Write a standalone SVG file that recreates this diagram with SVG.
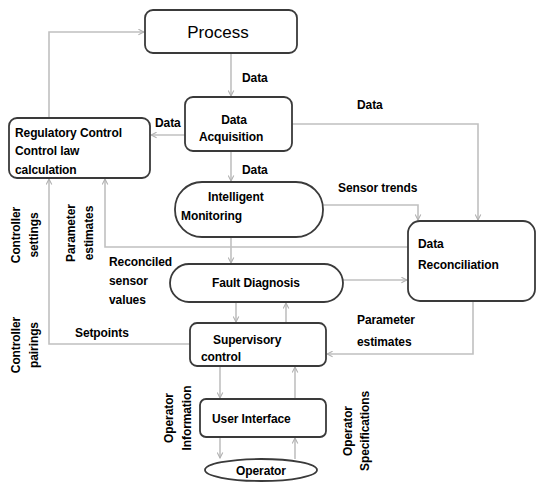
<svg xmlns="http://www.w3.org/2000/svg" width="536" height="483" viewBox="0 0 536 483">
<style>
.box{fill:#fff;stroke:#3a3a3a;stroke-width:1.8}
.ln{fill:none;stroke:#c0c0c0;stroke-width:1.6}
.t{font-family:"Liberation Sans",Arial,sans-serif;font-size:12px;font-weight:bold;fill:#000;letter-spacing:-0.1px}
.big{font-family:"Liberation Sans",Arial,sans-serif;font-size:17px;fill:#000}
</style>
<defs>
<marker id="ah" viewBox="0 0 10 10" refX="9" refY="5" markerWidth="7" markerHeight="7" orient="auto" markerUnits="userSpaceOnUse">
<path d="M1,1 L9,5 L1,9" fill="none" stroke="#b0b0b0" stroke-width="1.5"/>
</marker>
</defs>
<rect width="536" height="483" fill="#fff"/>
<g id="connectors">
<path class="ln" d="M49,118 V32 H144" marker-end="url(#ah)"/>
<path class="ln" d="M231,53 V96" marker-end="url(#ah)"/>
<path class="ln" d="M185,135 H151" marker-end="url(#ah)"/>
<path class="ln" d="M292,124 H478 V220" marker-end="url(#ah)"/>
<path class="ln" d="M231,151 V181" marker-end="url(#ah)"/>
<path class="ln" d="M322,205 H418 V220" marker-end="url(#ah)"/>
<path class="ln" d="M408,247 H105 V179" marker-end="url(#ah)"/>
<path class="ln" d="M190,344 H49 V179" marker-end="url(#ah)"/>
<path class="ln" d="M231,237 V263" marker-end="url(#ah)"/>
<path class="ln" d="M343,280 H407" marker-end="url(#ah)"/>
<path class="ln" d="M236,302 V322" marker-end="url(#ah)"/>
<path class="ln" d="M286,322 V303" marker-end="url(#ah)"/>
<path class="ln" d="M473,301 V354 H327" marker-end="url(#ah)"/>
<path class="ln" d="M220,366 V398" marker-end="url(#ah)"/>
<path class="ln" d="M295,399 V367" marker-end="url(#ah)"/>
<path class="ln" d="M220,437 V458" marker-end="url(#ah)"/>
<path class="ln" d="M295,459 V438" marker-end="url(#ah)"/>
</g>
<g id="labels">
<text class="t" x="242" y="82">Data</text>
<text class="t" x="155" y="127">Data</text>
<text class="t" x="357" y="109">Data</text>
<text class="t" x="242" y="174">Data</text>
<text class="t" x="338" y="192">Sensor trends</text>
<text class="t" x="109" y="266">Reconciled</text>
<text class="t" x="109" y="285">sensor</text>
<text class="t" x="109" y="304">values</text>
<text class="t" x="75" y="337">Setpoints</text>
<text class="t" x="357" y="324">Parameter</text>
<text class="t" x="357" y="346">estimates</text>
<text class="t" transform="translate(20,235) rotate(-90)" text-anchor="middle">Controller</text>
<text class="t" transform="translate(38,235) rotate(-90)" text-anchor="middle">settings</text>
<text class="t" transform="translate(75,233) rotate(-90)" text-anchor="middle">Parameter</text>
<text class="t" transform="translate(93,233) rotate(-90)" text-anchor="middle">estimates</text>
<text class="t" transform="translate(20,345) rotate(-90)" text-anchor="middle">Controller</text>
<text class="t" transform="translate(38,345) rotate(-90)" text-anchor="middle">pairings</text>
<text class="t" transform="translate(173,418) rotate(-90)" text-anchor="middle">Operator</text>
<text class="t" transform="translate(191,418) rotate(-90)" text-anchor="middle">Information</text>
<text class="t" transform="translate(352,431) rotate(-90)" text-anchor="middle">Operator</text>
<text class="t" transform="translate(369,431) rotate(-90)" text-anchor="middle">Specifications</text>
</g>
<g id="process">
<rect class="box" x="145" y="10" width="152" height="43" rx="8"/>
<text class="big" x="218" y="38" text-anchor="middle">Process</text>
</g>
<g id="data-acquisition">
<rect class="box" x="185" y="97" width="107" height="54" rx="8"/>
<text class="t" x="234" y="124" text-anchor="middle">Data</text>
<text class="t" x="231" y="141" text-anchor="middle">Acquisition</text>
</g>
<g id="regulatory-control">
<rect class="box" x="9" y="118" width="141" height="60" rx="8"/>
<text class="t" x="15" y="137">Regulatory Control</text>
<text class="t" x="15" y="155">Control law</text>
<text class="t" x="15" y="174">calculation</text>
</g>
<g id="intelligent-monitoring">
<rect class="box" x="175" y="182" width="148" height="55" rx="27"/>
<text class="t" x="208" y="201">Intelligent</text>
<text class="t" x="181" y="220">Monitoring</text>
</g>
<g id="fault-diagnosis">
<rect class="box" x="170" y="264" width="173" height="38" rx="19"/>
<text class="t" x="256" y="287" text-anchor="middle">Fault Diagnosis</text>
</g>
<g id="data-reconciliation">
<rect class="box" x="408" y="221" width="127" height="80" rx="12"/>
<text class="t" x="418" y="248">Data</text>
<text class="t" x="418" y="269">Reconciliation</text>
</g>
<g id="supervisory-control">
<rect class="box" x="190" y="323" width="136" height="43" rx="7"/>
<text class="t" x="213" y="344">Supervisory</text>
<text class="t" x="201" y="361">control</text>
</g>
<g id="user-interface">
<rect class="box" x="200" y="399" width="126" height="38" rx="6"/>
<text class="t" x="212" y="423">User Interface</text>
</g>
<g id="operator">
<ellipse class="box" cx="261" cy="470" rx="56" ry="11"/>
<text class="t" x="261" y="475" text-anchor="middle">Operator</text>
</g>
</svg>
